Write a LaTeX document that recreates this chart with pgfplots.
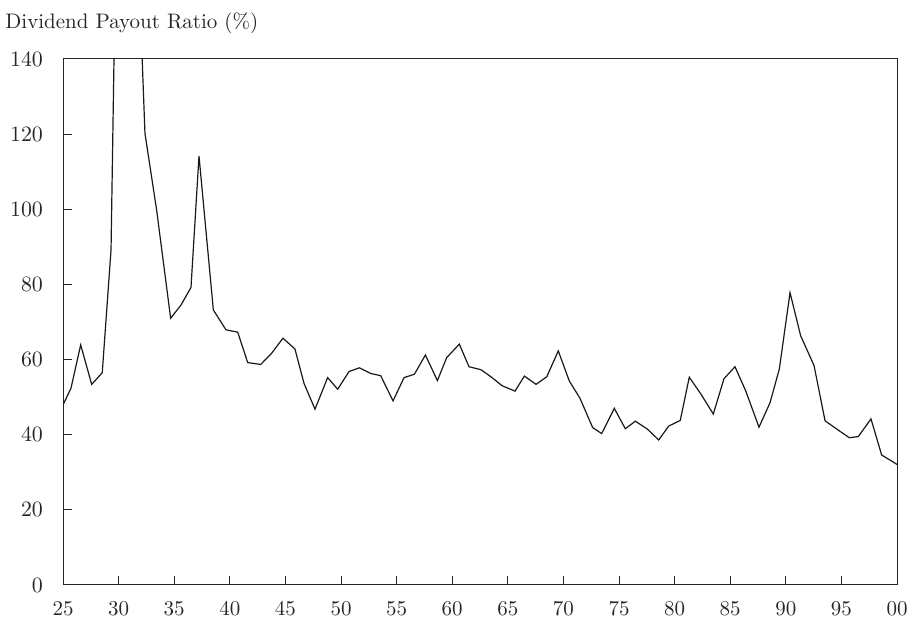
\documentclass[border=0pt]{standalone}
\usepackage{pgfplots}
\pgfplotsset{compat=1.18}
\pgfplotstableread{
x y
25.00 47.9
25.72 52.4
26.59 63.9
27.58 53.4
28.53 56.5
29.32 89.2
30.30 276
31.30 205
32.37 120.2
33.42 99.8
34.68 71.0
35.61 74.5
36.51 79.2
37.23 114.2
38.52 73.2
39.66 67.9
40.71 67.3
41.61 59.2
42.78 58.7
43.77 61.7
44.78 65.7
45.86 62.8
46.67 53.7
47.66 46.8
48.80 55.2
49.70 52.1
50.72 56.8
51.65 57.8
52.67 56.3
53.57 55.7
54.68 49.0
55.67 55.2
56.60 56.1
57.59 61.2
58.67 54.4
59.50 60.5
60.64 64.1
61.51 58.1
62.59 57.3
63.49 55.4
64.51 53.0
65.65 51.6
66.49 55.6
67.54 53.4
68.50 55.4
69.54 62.3
70.53 54.3
71.49 49.7
72.63 41.9
73.44 40.3
74.58 47.0
75.57 41.6
76.47 43.6
77.55 41.5
78.57 38.6
79.47 42.3
80.51 43.8
81.32 55.3
82.37 50.8
83.48 45.5
84.44 54.9
85.43 58.1
86.39 51.7
87.59 42.0
88.58 48.5
89.42 57.5
90.38 77.8
91.34 66.3
92.54 58.4
93.53 43.7
94.58 41.5
95.71 39.2
96.52 39.5
97.66 44.2
98.62 34.6
100.00 32.1
}\payout
\begin{document}
\begin{tikzpicture}[x=1pt,y=1pt]
\useasboundingbox (0,0) rectangle (453.5,310);
\node[anchor=base west, inner sep=0, font=\fontsize{10.5}{12}\selectfont, text=black!85] at (2.5,295.8) {Dividend Payout Ratio (\%)};
\begin{axis}[
  at={(31.5pt,17.5pt)}, anchor=south west,
  scale only axis, width=417pt, height=263pt,
  xmin=25, xmax=100, ymin=0, ymax=140,
  xtick={25,30,...,100},
  xticklabels={25,30,35,40,45,50,55,60,65,70,75,80,85,90,95,00},
  ytick={0,20,...,140},
  xtick pos=bottom, ytick pos=left,
  tick align=inside,
  major tick length=4.7pt,
  axis line style={line width=0.5pt, black!85},
  tick style={line width=0.5pt, black!85},
  ticklabel style={font=\fontsize{10.5}{12}\selectfont, text=black!85},
  xticklabel style={yshift=-4.5pt},
  yticklabel style={xshift=-6.5pt},
]
\addplot[line width=0.6pt, black!90, mark=none] table[x=x,y=y] {\payout};
\end{axis}
\end{tikzpicture}
\end{document}
